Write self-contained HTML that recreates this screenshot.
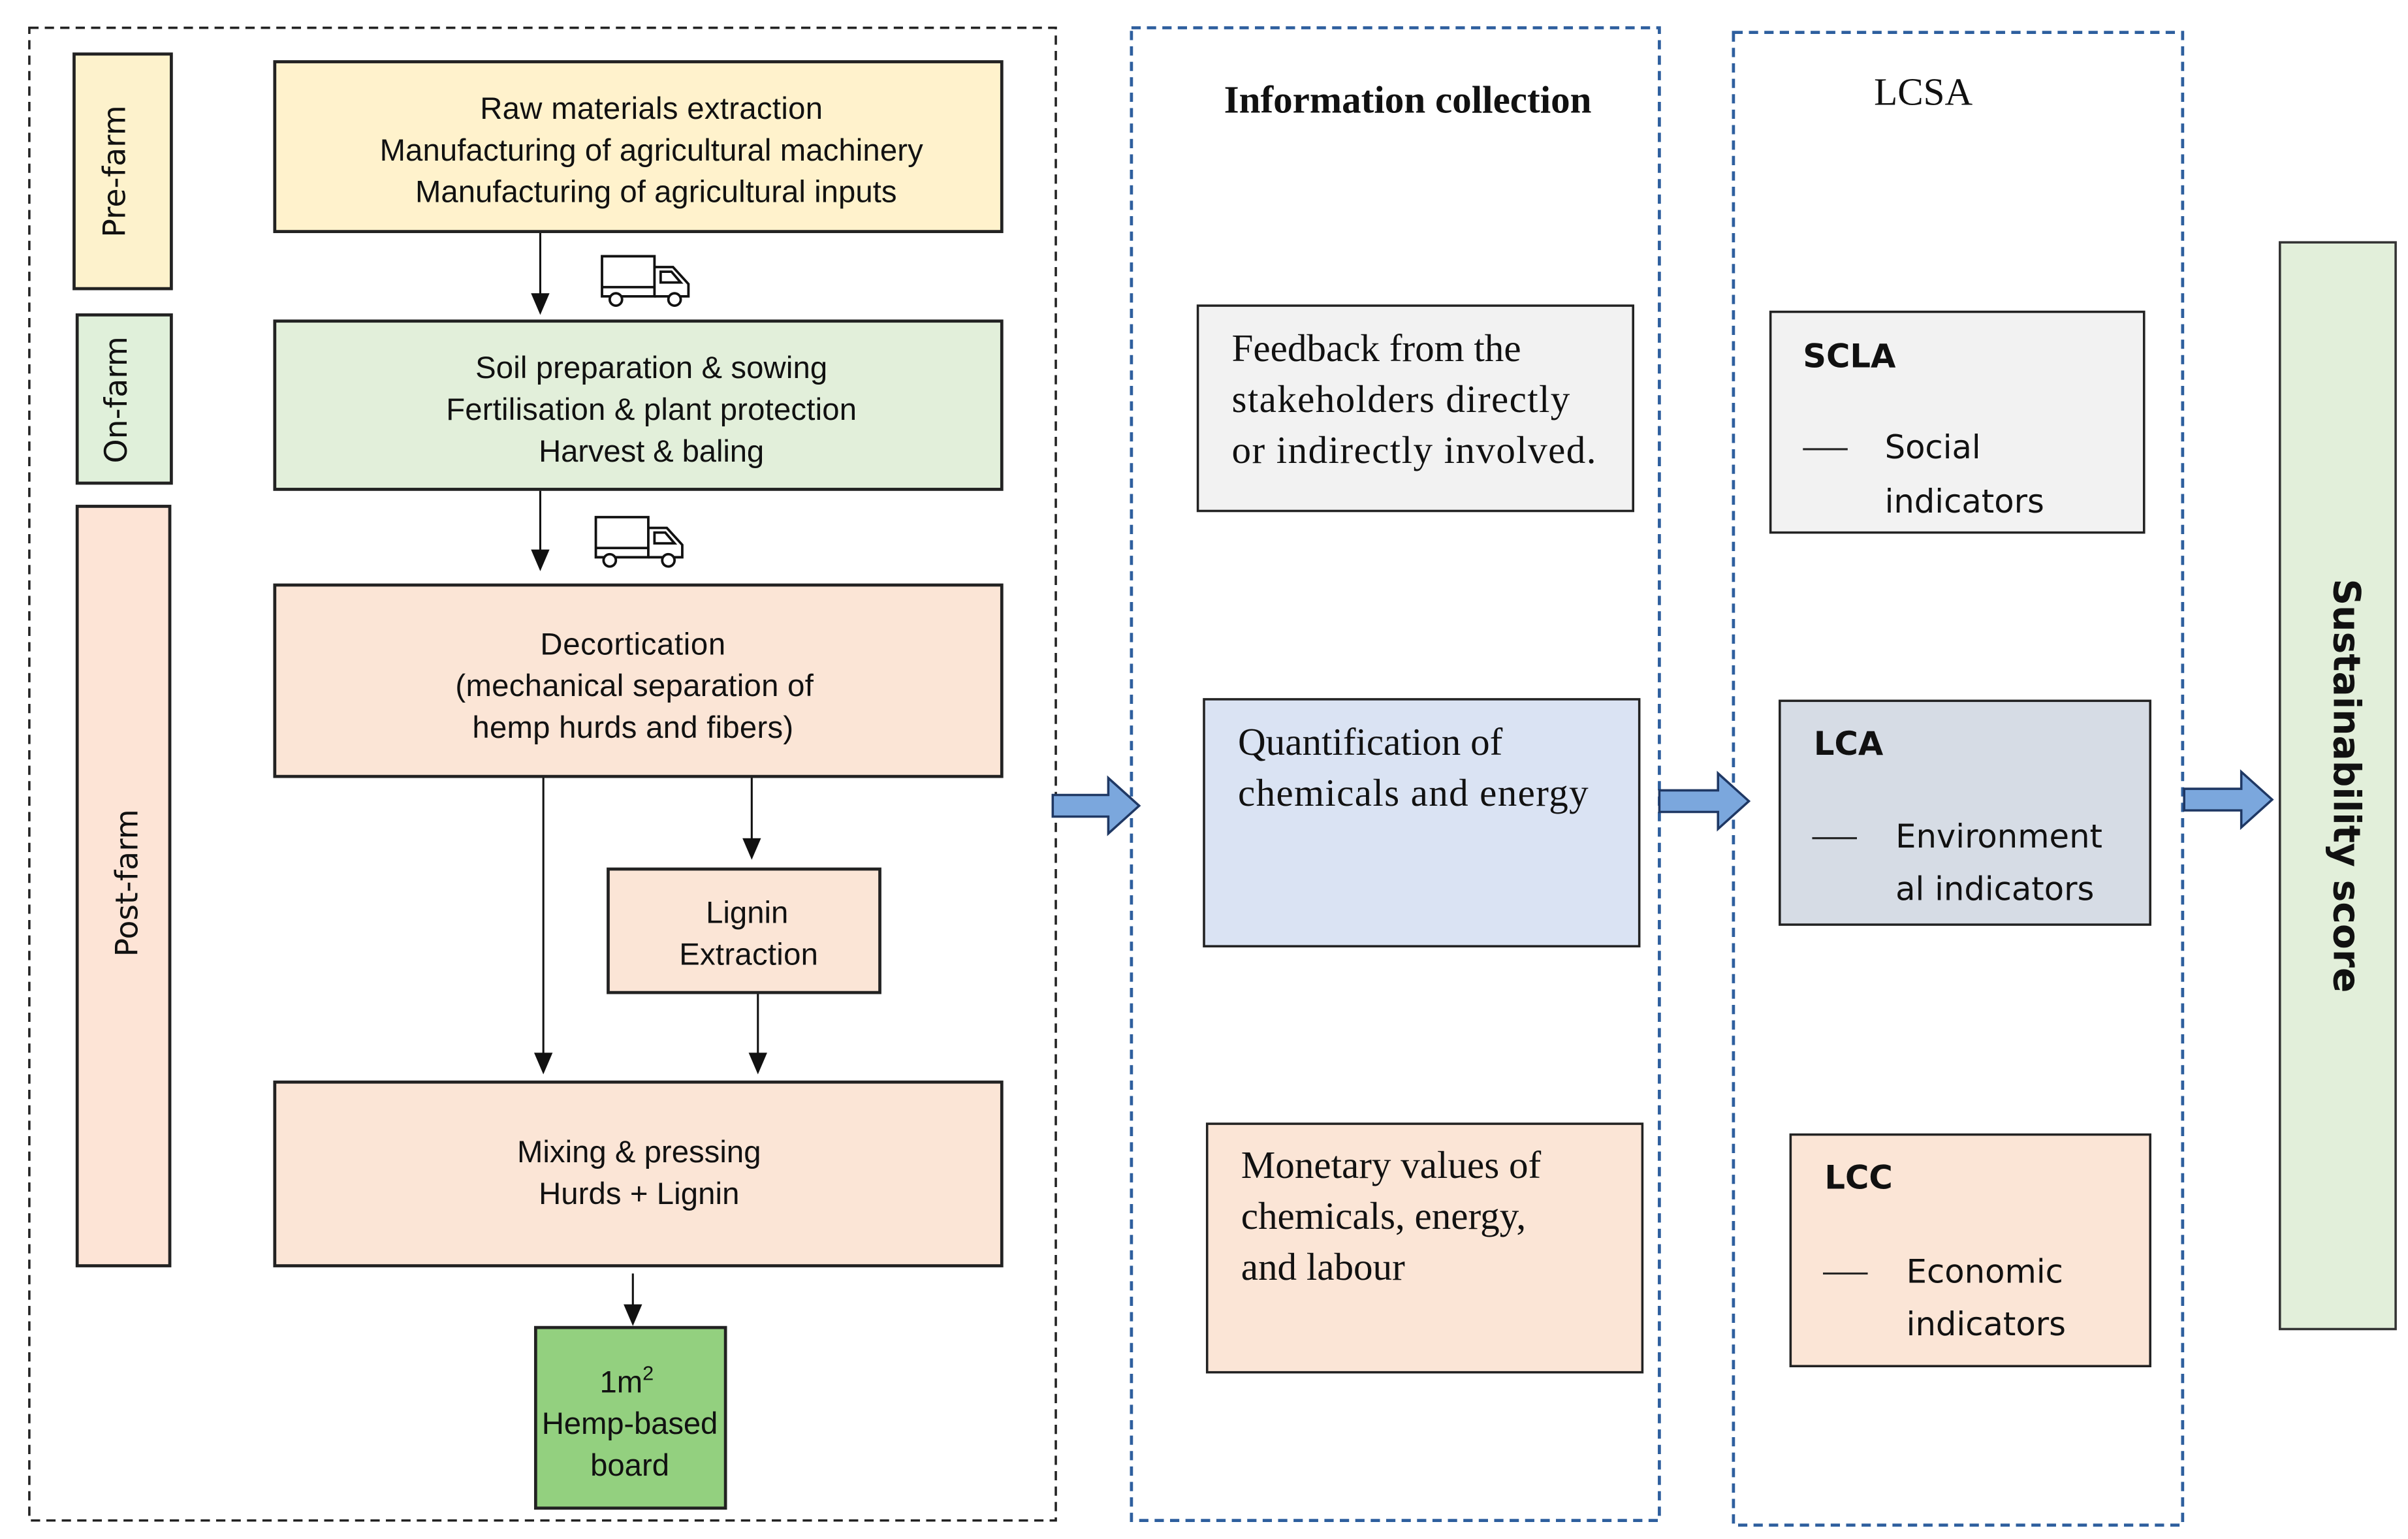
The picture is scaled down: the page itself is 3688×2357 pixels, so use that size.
<!DOCTYPE html>
<html><head><meta charset="utf-8"><style>
html,body{margin:0;padding:0;background:#fff;}
svg{display:block;}
.s{font-family:"Liberation Sans",Arial,sans-serif;font-size:20px;fill:#111;}
.t{font-family:"Liberation Serif","Times New Roman",serif;font-size:25px;fill:#111;}
.c{font-family:"DejaVu Sans","Liberation Sans",sans-serif;fill:#111;}
</style></head><body>
<svg width="3688" height="2357" viewBox="0 0 1560 997" preserveAspectRatio="none" xmlns="http://www.w3.org/2000/svg">
<defs>
<g id="truck" fill="none" stroke="#111" stroke-width="1.6">
<path d="M1,2 h34 v26 h-34 z"/>
<path d="M1,22 h34"/>
<path d="M35,9 h12 l10,11 v8 h-22"/>
<path d="M39,12 h7 l6,7 h-13 z"/>
<circle cx="10" cy="30" r="4" fill="#fff"/>
<circle cx="48" cy="30" r="4" fill="#fff"/>
</g>
</defs>
<rect x="19" y="18" width="665" height="967" fill="none" stroke="#222" stroke-width="1.5" stroke-dasharray="6,4"/>
<rect x="48" y="35" width="63" height="152" fill="#fdf2cc" stroke="#222" stroke-width="2"/>
<rect x="50" y="204" width="61" height="109" fill="#e0f0da" stroke="#222" stroke-width="2"/>
<rect x="50" y="328" width="60" height="492" fill="#fde4d6" stroke="#222" stroke-width="2"/>
<text class="c" font-size="20" transform="translate(81,111) rotate(-90)" text-anchor="middle">Pre-farm</text>
<text class="c" font-size="20" transform="translate(82,259) rotate(-90)" text-anchor="middle">On-farm</text>
<text class="c" font-size="20" transform="translate(89,572) rotate(-90)" text-anchor="middle">Post-farm</text>

<rect x="178" y="40" width="471" height="110" fill="#fff2cc" stroke="#222" stroke-width="2"/>
<text class="s" text-anchor="middle"><tspan x="422" y="77" textLength="222">Raw materials extraction</tspan><tspan x="422" y="104" textLength="352">Manufacturing of agricultural machinery</tspan><tspan x="425" y="131" textLength="312">Manufacturing of agricultural inputs</tspan></text>
<rect x="178" y="208" width="471" height="109" fill="#e2efda" stroke="#222" stroke-width="2"/>
<text class="s" text-anchor="middle"><tspan x="422" y="245" textLength="228">Soil preparation &amp; sowing</tspan><tspan x="422" y="272" textLength="266">Fertilisation &amp; plant protection</tspan><tspan x="422" y="299" textLength="146">Harvest &amp; baling</tspan></text>
<rect x="178" y="379" width="471" height="124" fill="#fbe5d6" stroke="#222" stroke-width="2"/>
<text class="s" text-anchor="middle"><tspan x="410" y="424" textLength="120">Decortication</tspan><tspan x="411" y="451" textLength="232">(mechanical separation of</tspan><tspan x="410" y="478" textLength="208">hemp hurds and fibers)</tspan></text>
<rect x="394" y="563" width="176" height="80" fill="#fbe5d6" stroke="#222" stroke-width="2"/>
<text class="s" text-anchor="middle"><tspan x="484" y="598">Lignin</tspan><tspan x="485" y="625" textLength="90">Extraction</tspan></text>
<rect x="178" y="701" width="471" height="119" fill="#fbe5d6" stroke="#222" stroke-width="2"/>
<text class="s" text-anchor="middle"><tspan x="414" y="753" textLength="158">Mixing &amp; pressing</tspan><tspan x="414" y="780" textLength="130">Hurds + Lignin</tspan></text>
<rect x="347" y="860" width="123" height="117" fill="#93d07f" stroke="#222" stroke-width="2"/>
<text class="s" text-anchor="middle"><tspan x="406" y="902">1m<tspan font-size="13" dy="-8">2</tspan></tspan><tspan x="408" y="929" textLength="114">Hemp-based</tspan><tspan x="408" y="956">board</tspan></text>

<g stroke="#111" stroke-width="1.3">
<line x1="350" y1="151" x2="350" y2="192"/>
<line x1="350" y1="318" x2="350" y2="358"/>
<line x1="352" y1="504" x2="352" y2="684"/>
<line x1="487" y1="504" x2="487" y2="545"/>
<line x1="491" y1="644" x2="491" y2="684"/>
<line x1="410" y1="825" x2="410" y2="847"/>
</g>
<g fill="#111">
<path d="M344,190 h12 l-6,14 z"/>
<path d="M344,356 h12 l-6,14 z"/>
<path d="M346,682 h12 l-6,14 z"/>
<path d="M481,543 h12 l-6,14 z"/>
<path d="M485,682 h12 l-6,14 z"/>
<path d="M404,845 h12 l-6,14 z"/>
</g>
<use href="#truck" x="389" y="164"/>
<use href="#truck" x="385" y="333"/>

<rect x="733" y="18" width="342" height="967" fill="none" stroke="#2e5f9e" stroke-width="2" stroke-dasharray="6,4"/>
<text class="t" x="912" y="73" text-anchor="middle" font-weight="bold" font-size="24">Information collection</text>
<rect x="776" y="198" width="282" height="133" fill="#f2f2f2" stroke="#222" stroke-width="1.5"/>
<text class="t"><tspan x="798" y="234">Feedback from the</tspan><tspan x="798" y="267" textLength="219">stakeholders directly</tspan><tspan x="798" y="300" textLength="236">or indirectly involved.</tspan></text>
<rect x="780" y="453" width="282" height="160" fill="#dae3f3" stroke="#222" stroke-width="1.5"/>
<text class="t"><tspan x="802" y="489">Quantification of</tspan><tspan x="802" y="522" textLength="227">chemicals and energy</tspan></text>
<rect x="782" y="728" width="282" height="161" fill="#fbe5d6" stroke="#222" stroke-width="1.5"/>
<text class="t"><tspan x="804" y="763">Monetary values of</tspan><tspan x="804" y="796">chemicals, energy,</tspan><tspan x="804" y="829">and labour</tspan></text>

<rect x="1123" y="21" width="291" height="967" fill="none" stroke="#2e5f9e" stroke-width="2" stroke-dasharray="6,4"/>
<text class="t" x="1246" y="68" text-anchor="middle" font-size="25">LCSA</text>
<g font-family="'DejaVu Sans','Liberation Sans',sans-serif" fill="#111">
<rect x="1147" y="202" width="242" height="143" fill="#f2f2f2" stroke="#222" stroke-width="1.5"/>
<text x="1168" y="238" font-weight="bold" font-size="21">SCLA</text>
<line x1="1168" y1="291" x2="1197" y2="291" stroke="#222" stroke-width="1.3"/>
<text font-size="21"><tspan x="1221" y="297">Social</tspan><tspan x="1221" y="332">indicators</tspan></text>
<rect x="1153" y="454" width="240" height="145" fill="#d6dce5" stroke="#222" stroke-width="1.5"/>
<text x="1175" y="489" font-weight="bold" font-size="21">LCA</text>
<line x1="1174" y1="543" x2="1203" y2="543" stroke="#222" stroke-width="1.3"/>
<text font-size="21"><tspan x="1228" y="549">Environment</tspan><tspan x="1228" y="583">al indicators</tspan></text>
<rect x="1160" y="735" width="233" height="150" fill="#fbe5d6" stroke="#222" stroke-width="1.5"/>
<text x="1182" y="770" font-weight="bold" font-size="21">LCC</text>
<line x1="1181" y1="825" x2="1210" y2="825" stroke="#222" stroke-width="1.3"/>
<text font-size="21"><tspan x="1235" y="831">Economic</tspan><tspan x="1235" y="865">indicators</tspan></text>
</g>

<rect x="1477" y="157" width="75" height="704" fill="#e2efda" stroke="#333" stroke-width="1.5"/>
<text class="c" font-size="24" font-weight="bold" transform="translate(1512,509) rotate(90)" text-anchor="middle">Sustainability score</text>

<g fill="#7ba7dd" stroke="#1f3864" stroke-width="1.5">
<path d="M682,515 h36 v-11 l20,18 l-20,18 v-11 h-36 z"/>
<path d="M1075,512 h38 v-11 l20,18 l-20,18 v-11 h-38 z"/>
<path d="M1415,511 h37 v-11 l20,18 l-20,18 v-11 h-37 z"/>
</g>
</svg>
</body></html>
